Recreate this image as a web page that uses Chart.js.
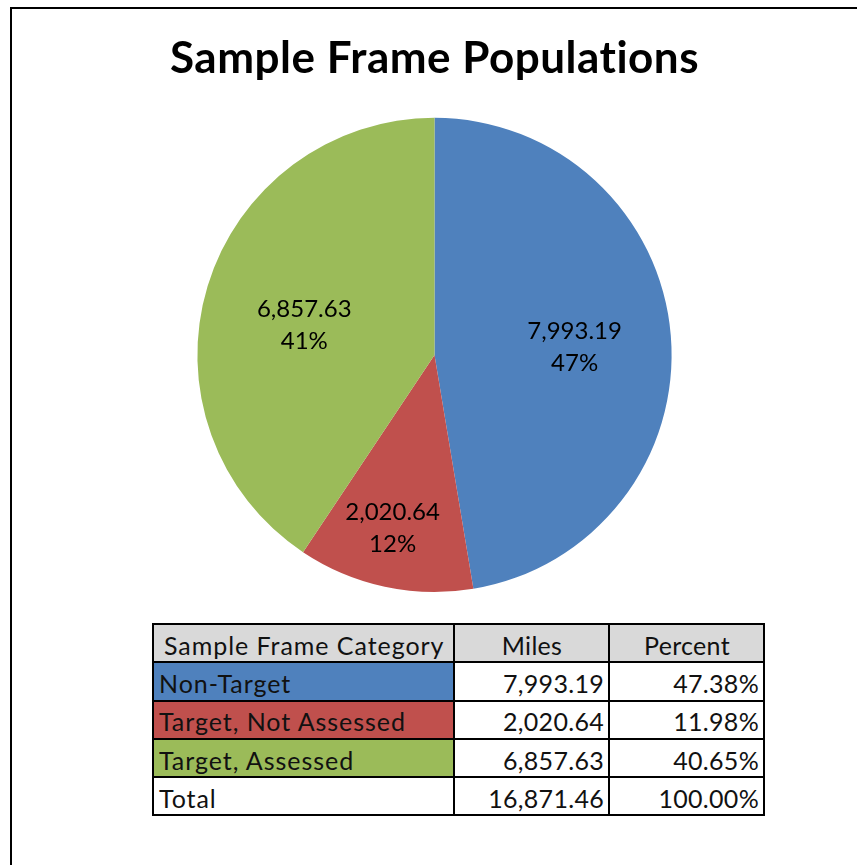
<!DOCTYPE html>
<html>
<head>
<meta charset="utf-8">
<script src="https://cdn.jsdelivr.net/npm/chart.js@4.4.1/dist/chart.umd.min.js"></script>
<style>
  html, body { margin: 0; padding: 0; width: 857px; height: 865px; overflow: hidden; background: #fff; }
  #frame { position: absolute; left: 10px; top: 7px; width: 900px; height: 900px; border: 2px solid #000; box-sizing: border-box; }
  #wrap { position: absolute; left: 12px; top: 0px; width: 845px; height: 610px; }
  table { position: absolute; left: 152px; top: 623px; width: 613px; table-layout: fixed; border-collapse: collapse; font-family: Lato, "Liberation Sans", sans-serif; font-size: 25px; letter-spacing: 0.3px; color: #111; }
  tr { height: 38.3px; }
  td, th { border: 2px solid #000; padding: 3px 4px 0 5px; font-weight: normal; white-space: nowrap; overflow: hidden; vertical-align: middle; }
  th { background: #d9d9d9; text-align: center; }
  .cat { letter-spacing: 0.95px; }
  td.num { text-align: right; }
</style>
</head>
<body>
<div id="frame"></div>
<div id="wrap"><canvas id="c" width="845" height="610"></canvas></div>
<table id="tbl"></table>
<script>
const categories = ['Non-Target', 'Target, Not Assessed', 'Target, Assessed'];
const miles = [7993.19, 2020.64, 6857.63];
const percents = [47.38, 11.98, 40.65];
const totalMiles = 16871.46;
const totalPercent = 100.00;
const headers = ['Sample Frame Category', 'Miles', 'Percent'];
const colors = ['#4f81bd', '#c0504d', '#9bbb59'];

const fmt = v => v.toLocaleString('en-US', {minimumFractionDigits: 2, maximumFractionDigits: 2});

// table
const tbl = document.getElementById('tbl');
const colW = [301, 155, 155];
let html = '<colgroup>' + colW.map(w => `<col style="width:${w}px">`).join('') + '</colgroup>';
html += '<tr>' + headers.map((h, i) => `<th ${i===0?'class="cat" style="text-align:left;padding-left:10px"':''}>${h}</th>`).join('') + '</tr>';
categories.forEach((c, i) => {
  html += `<tr><td class="cat" style="background:${colors[i]}">${c}</td><td class="num">${fmt(miles[i])}</td><td class="num">${fmt(percents[i])}%</td></tr>`;
});
html += `<tr><td class="cat">Total</td><td class="num">${fmt(totalMiles)}</td><td class="num">${fmt(totalPercent)}%</td></tr>`;
tbl.innerHTML = html;

// label placement per slice: radial fraction and angle adjustment (deg)
const labelPlace = [{r: 0.592, d: 1.4}, {r: 0.751, d: 1.5}, {r: 0.563, d: -4.2}];

const sliceLabels = {
  id: 'sliceLabels',
  beforeDraw(chart) { chart.ctx.letterSpacing = '0.5px'; },
  beforeDatasetsDraw(chart) { chart.ctx.letterSpacing = '0px'; },
  afterDatasetsDraw(chart) {
    const ctx = chart.ctx;
    const meta = chart.getDatasetMeta(0);
    const total = miles.reduce((a, b) => a + b, 0);
    ctx.save();
    ctx.font = '24px Lato, "Liberation Sans", sans-serif';
    ctx.fillStyle = '#000';
    ctx.textAlign = 'center';
    ctx.textBaseline = 'middle';
    meta.data.forEach((arc, i) => {
      const p = arc.getProps(['x', 'y', 'startAngle', 'endAngle', 'outerRadius'], true);
      const mid = (p.startAngle + p.endAngle) / 2 + labelPlace[i].d * Math.PI / 180;
      const rr = p.outerRadius * labelPlace[i].r;
      const x = p.x + Math.cos(mid) * rr;
      const y = p.y + Math.sin(mid) * rr;
      const pct = Math.round(miles[i] / total * 100) + '%';
      ctx.fillText(fmt(miles[i]), x, y - 16);
      ctx.fillText(pct, x, y + 16);
    });
    ctx.restore();
  }
};

new Chart(document.getElementById('c'), {
  type: 'pie',
  data: {
    labels: categories,
    datasets: [{ data: miles, backgroundColor: colors, borderWidth: 0 }]
  },
  options: {
    responsive: false,
    animation: false,
    rotation: 0,
    layout: { padding: { top: 0, bottom: 18, left: 0, right: 0 } },
    plugins: {
      legend: { display: false },
      tooltip: { enabled: false },
      title: {
        display: true,
        text: 'Sample Frame Populations',
        color: '#000',
        font: { family: 'Lato, "Liberation Sans", sans-serif', size: 44, weight: 'bold', lineHeight: 1.2 },
        padding: { top: 32, bottom: 33 }
      }
    }
  },
  plugins: [sliceLabels]
});
</script>
</body>
</html>
